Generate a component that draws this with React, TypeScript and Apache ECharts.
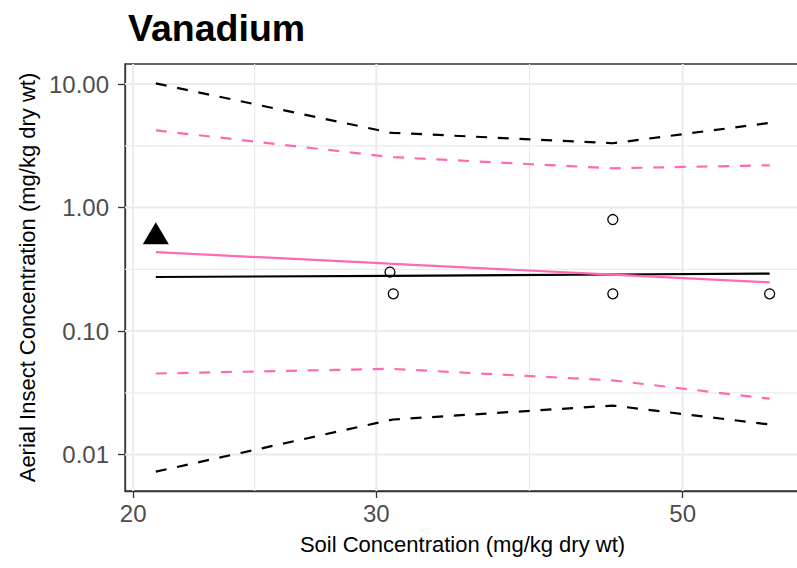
import React, { useEffect, useRef } from "react";
import * as echarts from "echarts";

// Labels
const chartTitle = "Vanadium";
const xAxisTitle = "Soil Concentration (mg/kg dry wt)";
const yAxisTitle = "Aerial Insect Concentration (mg/kg dry wt)";

// Axis breaks (both axes are log10 scaled)
const xTicks = [20, 30, 50];
const xTickLabels = ["20", "30", "50"];
const xMinorTicks = [24.49, 38.73];
const yTicks = [0.01, 0.1, 1, 10];
const yTickLabels = ["0.01", "0.10", "1.00", "10.00"];
const yMinorTicks = [0.0316, 0.316, 3.16];
const xLimits = [19.73, 60.8];
const yLimits = [0.00506, 14.55];

// Observed samples
const observedX = [30.69, 30.86, 44.5, 44.5, 57.8];
const observedY = [0.3, 0.2, 0.8, 0.2, 0.2];
const highlightX = [20.77];
const highlightY = [0.58];

// Fitted models and prediction intervals, evaluated at the sampled soil concentrations
const fitX = [20.77, 30.69, 30.86, 44.5, 57.8];
const blackFit = [0.274, 0.28, 0.28, 0.287, 0.292];
const blackUpper = [10.13, 4.05, 4.03, 3.32, 4.85];
const blackLower = [0.00726, 0.019, 0.0192, 0.0249, 0.0175];
const pinkFit = [0.436, 0.351, 0.35, 0.286, 0.248];
const pinkUpper = [4.22, 2.57, 2.56, 2.08, 2.2];
const pinkLower = [0.0453, 0.0494, 0.0493, 0.0398, 0.0283];

const FONT = "'Liberation Sans', Arial, sans-serif";
const PINK = "#FF69B4";
const lg = (v: number) => Math.log10(v);

const pairs = (xs: number[], ys: number[]) => xs.map((x, i) => [lg(x), lg(ys[i])]);

const tickText = (ticks: number[], labels: string[]) => (v: number) => {
  const i = ticks.findIndex((t) => Math.abs(lg(t) - v) < 1e-6);
  return i >= 0 ? labels[i] : "";
};

function gridSeries(values: number[], vertical: boolean, width: number) {
  return values.map((v) => ({
    type: "line",
    silent: true,
    z: 0,
    symbol: "none",
    lineStyle: { color: "#EBEBEB", width },
    data: vertical
      ? [
          [lg(v), lg(yLimits[0])],
          [lg(v), lg(yLimits[1])],
        ]
      : [
          [lg(xLimits[0]), lg(v)],
          [lg(xLimits[1]), lg(v)],
        ],
  }));
}

function lineSeries(ys: number[], color: string, dashed: boolean) {
  return {
    type: "line",
    silent: true,
    z: 3,
    symbol: "none",
    data: pairs(fitX, ys),
    lineStyle: {
      color,
      width: 2.2,
      type: dashed ? [11, 10.7] : "solid",
      cap: "butt",
    },
  };
}

export default function App() {
  const ref = useRef<HTMLDivElement>(null);

  useEffect(() => {
    if (!ref.current) return;
    const chart = echarts.init(ref.current, undefined, { renderer: "svg" });
    const axisColor = "#333333";
    chart.setOption({
      animation: false,
      backgroundColor: "#FFFFFF",
      title: {
        text: chartTitle,
        left: 123,
        top: 4,
        textStyle: { fontFamily: FONT, fontSize: 37.5, fontWeight: "bold", color: "#000000" },
      },
      grid: {
        left: 125,
        top: 64,
        right: -3,
        bottom: 77,
        show: true,
        borderColor: axisColor,
        borderWidth: 1.3,
        outerBoundsMode: "none",
      },
      xAxis: {
        type: "value",
        min: lg(xLimits[0]),
        max: lg(xLimits[1]),
        splitLine: { show: false },
        axisLine: { show: true, onZero: false, lineStyle: { color: axisColor, width: 1.3 } },
        axisTick: {
          show: true,
          customValues: xTicks.map(lg),
          length: 7,
          lineStyle: { color: axisColor, width: 1.3 },
        },
        axisLabel: {
          customValues: xTicks.map(lg),
          formatter: tickText(xTicks, xTickLabels),
          color: "#4D4D4D",
          fontFamily: FONT,
          fontSize: 24,
          margin: 10,
        },
        name: xAxisTitle,
        nameLocation: "middle",
        nameGap: 42,
        nameTextStyle: { fontFamily: FONT, fontSize: 22, color: "#000000" },
      },
      yAxis: {
        type: "value",
        min: lg(yLimits[0]),
        max: lg(yLimits[1]),
        splitLine: { show: false },
        axisLine: { show: true, onZero: false, lineStyle: { color: axisColor, width: 1.3 } },
        axisTick: {
          show: true,
          customValues: yTicks.map(lg),
          length: 7,
          lineStyle: { color: axisColor, width: 1.3 },
        },
        axisLabel: {
          customValues: yTicks.map(lg),
          formatter: tickText(yTicks, yTickLabels),
          color: "#4D4D4D",
          fontFamily: FONT,
          fontSize: 24,
          margin: 16,
        },
        name: yAxisTitle,
        nameLocation: "middle",
        nameGap: 87,
        nameTextStyle: { fontFamily: FONT, fontSize: 22, color: "#000000" },
      },
      series: [
        ...gridSeries(xMinorTicks, true, 1.2),
        ...gridSeries(yMinorTicks, false, 1.2),
        ...gridSeries(xTicks, true, 2),
        ...gridSeries(yTicks, false, 2),
        lineSeries(blackUpper, "#000000", true),
        lineSeries(blackLower, "#000000", true),
        lineSeries(pinkUpper, PINK, true),
        lineSeries(pinkLower, PINK, true),
        lineSeries(blackFit, "#000000", false),
        lineSeries(pinkFit, PINK, false),
        {
          type: "scatter",
          silent: true,
          z: 4,
          symbol: "circle",
          symbolSize: 10,
          itemStyle: {
            color: "rgba(0,0,0,0)",
            borderColor: "#000000",
            borderWidth: 1.3,
            opacity: 1,
          },
          data: pairs(observedX, observedY),
        },
        {
          type: "scatter",
          silent: true,
          z: 4,
          symbol: "triangle",
          symbolSize: [26, 22],
          symbolOffset: [0, -3.6],
          itemStyle: { color: "#000000", opacity: 1 },
          data: pairs(highlightX, highlightY),
        },
      ],
    });
    return () => chart.dispose();
  }, []);

  return <div ref={ref} style={{ width: 797, height: 568, position: "absolute", left: 0, top: 0 }} />;
}
